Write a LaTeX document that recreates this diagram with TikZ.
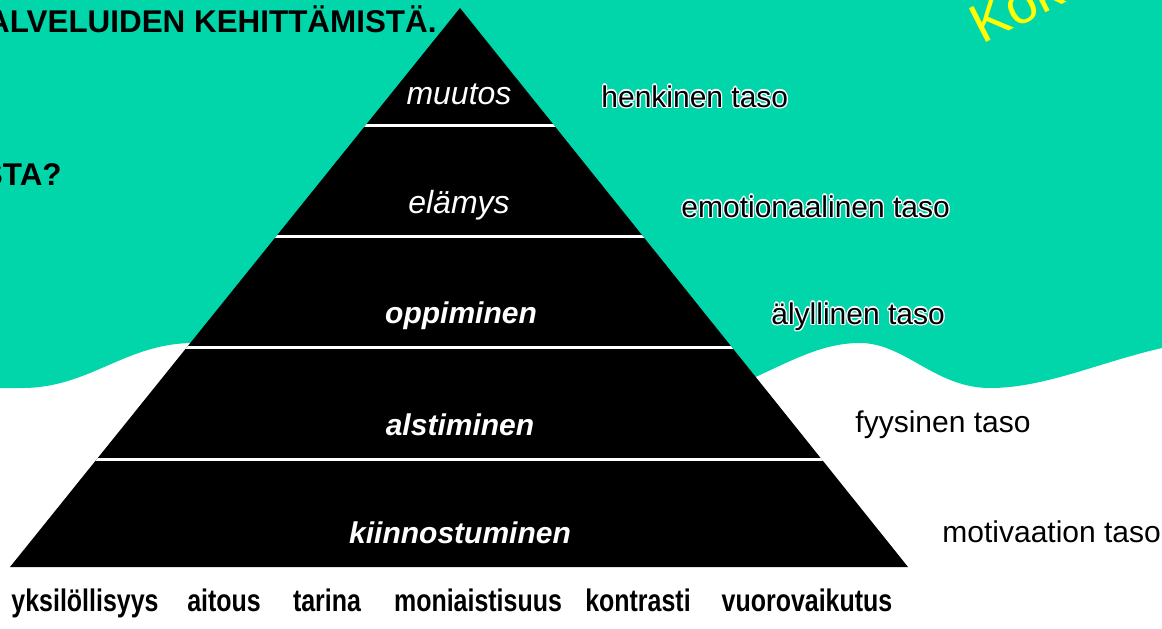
\documentclass[tikz,border=0pt]{standalone}
\usepackage{fontspec}
\setmainfont{Liberation Sans}
\newfontfamily\narrowbold[FakeStretch=0.8]{Liberation Sans Bold}
\definecolor{teal1}{RGB}{0,214,170}
\definecolor{yel}{RGB}{255,255,0}
\tikzset{
  lvl/.style={anchor=base west, inner sep=0pt, font=\fontsize{15pt}{17pt}\selectfont},
  inlbl/.style={anchor=base, inner sep=0pt, text=white},
  btm/.style={anchor=base, inner sep=0pt, font=\narrowbold\fontsize{15.6pt}{17pt}\selectfont},
  head/.style={inner sep=0pt, font=\bfseries\fontsize{15.7pt}{17pt}\selectfont},
  band/.style={white, line width=1.5pt}
}
\newcommand{\haloLabel}[4]{%
  \foreach \dx/\dy/\k in {-1.2/0/a,1.2/0/b,0/-1.2/c,0/1.2/d,-1/-1/e,1/1/f,-1/1/g,1/-1/h}{%
    \node[lvl, text=white] (#1\k) at (#2+\dx,#3+\dy) {#4};}
  \node[lvl] (#1) at (#2,#3) {#4};}
\begin{document}
\begin{tikzpicture}[x=0.5pt, y=-0.5pt]
\useasboundingbox (0,0) rectangle (1162,628);
\begin{scope}
\clip (0,0) rectangle (1162,628);
% teal wavy background
\fill[teal1] (0,0) -- (1162,0) -- (1162,348)
  .. controls (1100,362) and (1045,388) .. (990,388)
  .. controls (935,388) and (905,343) .. (860,343)
  .. controls (820,343) and (790,362) .. (740,384)
  -- (460,420) -- (194,343)
  .. controls (125,343) and (90,388) .. (22,388)
  -- (0,388) -- cycle;
% header texts
\node[head, anchor=base east] (t1) at (437,32) {ALVELUIDEN KEHITTÄMISTÄ.};
\node[head, anchor=base east] (t2) at (62,185) {STA?};
\node[anchor=base west, inner sep=0pt, rotate=27, text=yel,
      font=\fontsize{27.5pt}{32pt}\selectfont] (ko) at (982,45) {Kok};
% pyramid
\coordinate (apex) at (460,8);
\coordinate (bl) at (10,567);
\coordinate (br) at (908,567);
\fill[black] (apex) -- (br) -- (bl) -- cycle;
\begin{scope}
  \clip (apex) -- (br) -- (bl) -- cycle;
  \draw[band] (0,125) -- (1162,125);
  \draw[band] (0,236) -- (1162,236);
  \draw[band] (0,347) -- (1162,347);
  \draw[band] (0,459) -- (1162,459);
\end{scope}
% pyramid labels
\node[inlbl, font=\itshape\fontsize{16pt}{18pt}\selectfont] (l1) at (459,104) {muutos};
\node[inlbl, font=\itshape\fontsize{16pt}{18pt}\selectfont] (l2) at (459,213) {elämys};
\node[inlbl, font=\bfseries\itshape\fontsize{15pt}{17pt}\selectfont] (l3) at (461,323) {oppiminen};
\node[inlbl, font=\bfseries\itshape\fontsize{15pt}{17pt}\selectfont] (l4) at (460,435) {alstiminen};
\node[inlbl, font=\bfseries\itshape\fontsize{15pt}{17pt}\selectfont] (l5) at (460,543) {kiinnostuminen};
% right labels
\haloLabel{r1}{601}{107}{henkinen taso}
\haloLabel{r2}{681}{217}{emotionaalinen taso}
\haloLabel{r3}{771}{324}{älyllinen taso}
\haloLabel{r4}{855}{432}{fyysinen taso}
\haloLabel{r5}{942}{542}{motivaation taso}
% bottom words
\node[btm] (b1) at (85,611) {yksilöllisyys};
\node[btm] (b2) at (224,611) {aitous};
\node[btm] (b3) at (327,611) {tarina};
\node[btm] (b4) at (478,611) {moniaistisuus};
\node[btm] (b5) at (638,611) {kontrasti};
\node[btm] (b6) at (807,611) {vuorovaikutus};
\end{scope}
\end{tikzpicture}
\end{document}
